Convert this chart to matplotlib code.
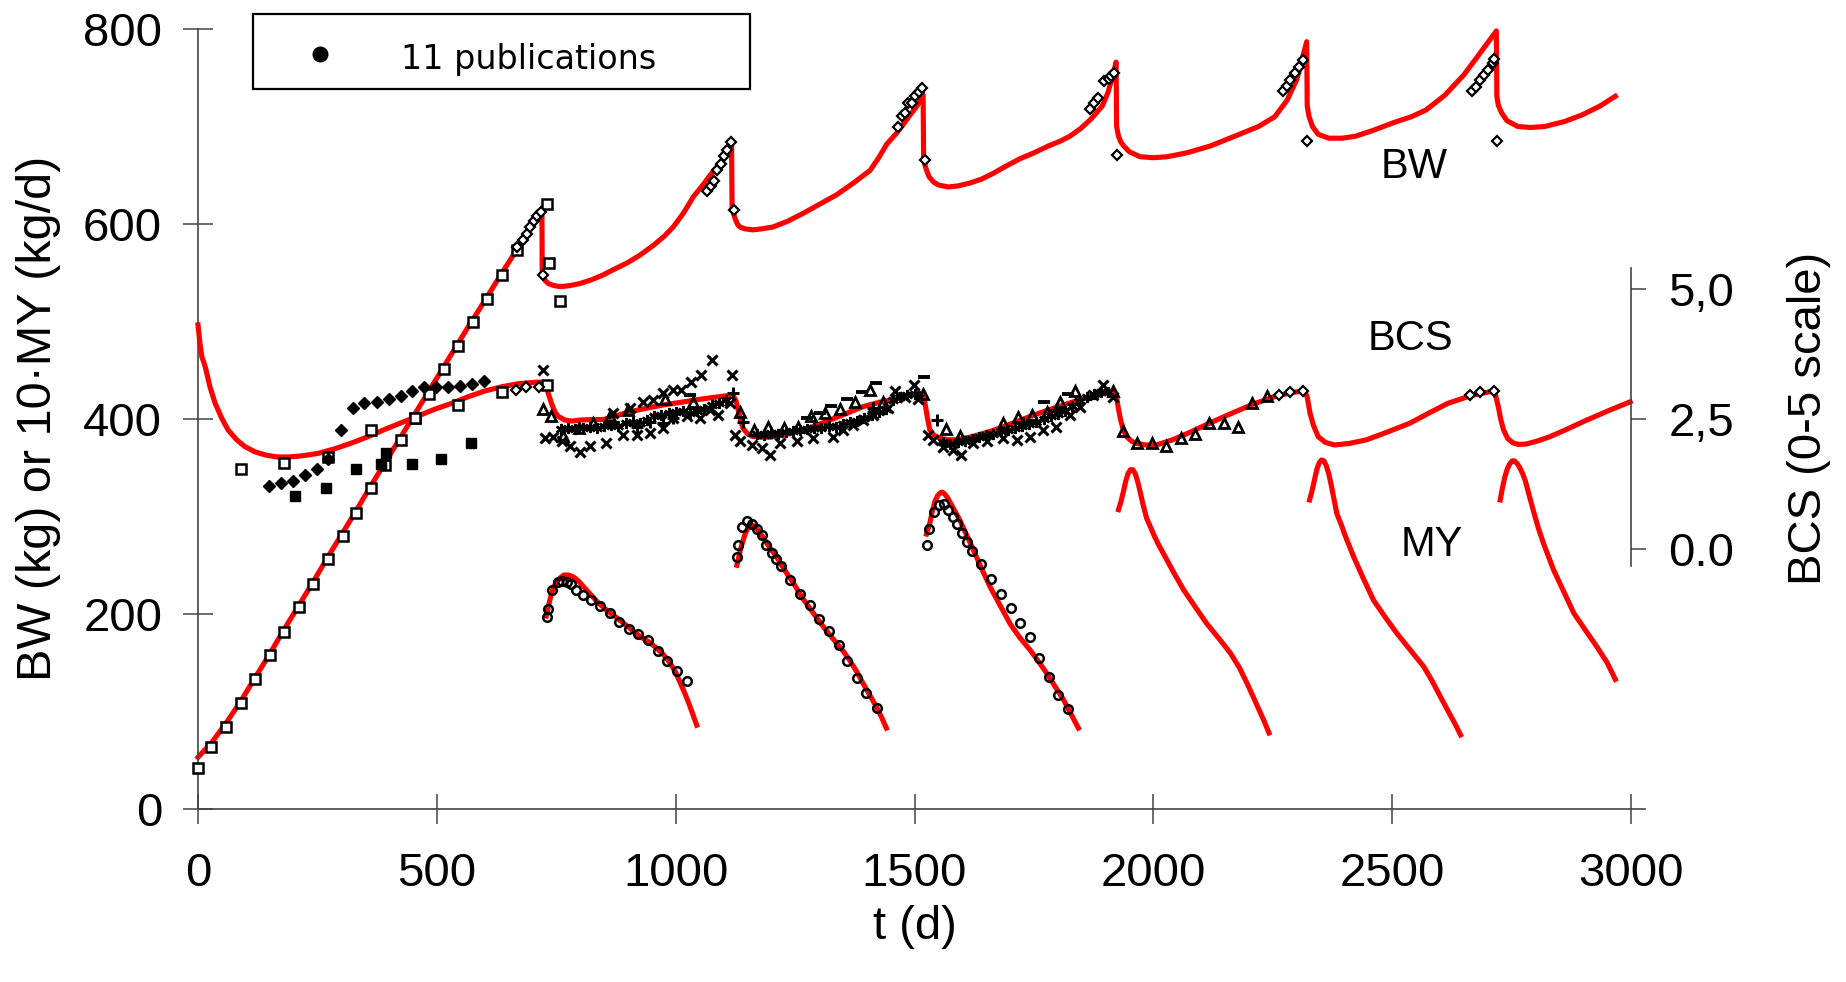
import matplotlib
matplotlib.use("Agg")
import matplotlib.pyplot as plt
from matplotlib.lines import Line2D
from matplotlib.patches import Rectangle

plt.rcParams['font.family'] = ['Liberation Sans', 'DejaVu Sans']

# ---------------- model curves (red) ----------------
# body weight (kg)
bw_t = [0, 30, 60, 90, 120, 150, 180, 210, 240, 270, 300, 330, 360, 390, 420, 450, 480, 510,
        540, 570, 600, 630, 660, 691, 705, 720,
        720.5, 723, 727, 733, 744, 755, 765, 780, 800, 825, 849, 873, 898, 925, 953, 975, 995,
        1016, 1037, 1047, 1060, 1072, 1093, 1110, 1117,
        1118, 1121, 1124, 1129, 1134, 1145, 1162, 1180, 1204, 1235, 1267, 1300, 1337, 1372,
        1407, 1425, 1442, 1462, 1476, 1491, 1505, 1518,
        1519, 1522, 1526, 1531, 1540, 1550, 1570, 1590, 1616, 1640, 1665, 1690, 1721, 1750,
        1780, 1805, 1825, 1848, 1870, 1893, 1905, 1915, 1922,
        1923, 1927, 1932, 1938, 1950, 1972, 2000, 2029, 2070, 2119, 2170, 2220, 2254, 2280,
        2300, 2321,
        2322, 2326, 2333, 2345, 2367, 2395, 2423, 2460, 2503, 2540, 2571, 2610, 2650, 2685,
        2718,
        2719, 2722, 2729, 2740, 2763, 2790, 2819, 2860, 2898, 2935, 2967]
bw_v = [53, 69, 89, 111, 135, 159, 184, 208, 232, 257, 281, 305, 330, 354, 378, 402, 426, 450,
        474, 498, 521, 545, 568, 594, 602, 614,
        553, 547, 542, 539, 537, 536, 536, 537, 539, 543, 548, 554, 560, 568, 578, 587, 597,
        611, 628, 634, 642, 650, 662, 674, 683,
        618, 611, 606, 600, 597, 595, 594, 595, 597, 603, 611, 620, 630, 642,
        655, 668, 682, 693, 702, 712, 721, 732,
        668, 660, 654, 648, 643, 640, 638, 639, 642, 646, 652, 659, 667, 673,
        680, 685, 690, 698, 708, 721, 735, 752, 766,
        700, 690, 684, 680, 674, 669, 668, 669, 673, 680, 690, 700, 710, 727,
        748, 787,
        721, 710, 700, 692, 688, 688, 690, 696, 704, 710, 717, 732, 753, 776,
        798,
        731, 722, 714, 706, 700, 699, 700, 705, 712, 721, 731]

# body condition score (0-5 scale)
bcs_t = [0, 4, 8, 15, 25, 36, 50, 63, 81, 98, 119, 140, 165, 189, 217, 252, 287, 322, 356,
         391, 426, 461, 496, 531, 566, 601, 636, 671, 712, 726, 733, 740, 747, 754, 768, 782,
         800, 825, 849, 875, 904, 940, 974, 1010, 1044, 1075, 1100, 1120,
         1126, 1131, 1136, 1141, 1150, 1159, 1175, 1198, 1225, 1253, 1290, 1323, 1358, 1393,
         1430, 1462, 1490, 1511,
         1517, 1522, 1527, 1532, 1540, 1553, 1570, 1588, 1620, 1658, 1700, 1742, 1776, 1812,
         1846, 1881, 1905, 1919,
         1923, 1926, 1931, 1937, 1945, 1955, 1965, 1985, 2006, 2040, 2073, 2120, 2164, 2210,
         2254, 2290, 2317,
         2322, 2328, 2335, 2345, 2360, 2379, 2410, 2446, 2490, 2537, 2576, 2616, 2665, 2712,
         2717, 2722, 2727, 2733, 2742, 2753, 2765, 2781, 2805, 2830, 2865, 2900, 2950, 2998]
bcs_v = [4.31, 3.96, 3.70, 3.51, 3.12, 2.80, 2.51, 2.29, 2.10, 1.97, 1.87, 1.81, 1.77, 1.77,
         1.79, 1.84, 1.93, 2.04, 2.16, 2.30, 2.43, 2.56, 2.69, 2.80, 2.93, 3.04, 3.12, 3.18,
         3.21, 3.19, 3.00, 2.80, 2.64, 2.55, 2.48, 2.46,
         2.48, 2.49, 2.49, 2.56, 2.64, 2.71, 2.77, 2.82, 2.87, 2.91, 2.94, 2.96,
         2.85, 2.67, 2.48, 2.32, 2.22, 2.17, 2.15, 2.15, 2.19, 2.26, 2.36, 2.48, 2.61, 2.74,
         2.83, 2.89, 2.96, 3.00,
         2.95, 2.80, 2.52, 2.29, 2.19, 2.13, 2.10, 2.10, 2.16, 2.26, 2.40, 2.55, 2.66, 2.77,
         2.87, 2.96, 3.01, 3.03,
         2.92, 2.74, 2.50, 2.29, 2.15, 2.07, 2.03, 2.00, 2.00, 2.10, 2.23, 2.43, 2.61, 2.79,
         2.93, 3.01, 3.04,
         2.92, 2.61, 2.38, 2.16, 2.05, 2.00, 2.03, 2.10, 2.25, 2.42, 2.61, 2.80, 2.95, 3.04,
         2.93, 2.74, 2.50, 2.29, 2.12, 2.04, 2.01, 2.02, 2.08, 2.16, 2.30, 2.45, 2.65, 2.83]

# milk yield x 10 (kg/d), one list per lactation
my_t = [
    [729, 731, 733, 737, 740, 745, 751, 758, 766, 775, 786, 796, 807, 820, 835, 855, 877, 900,
     925, 945, 960, 975, 988, 1000, 1009, 1018, 1027, 1036, 1044],
    [1128, 1132, 1135, 1139, 1142, 1146, 1150, 1155, 1160, 1166, 1172, 1178, 1185, 1197, 1211,
     1228, 1246, 1266, 1288, 1312, 1337, 1352, 1365, 1380, 1392, 1406, 1420, 1431, 1441],
    [1525, 1528, 1532, 1537, 1543, 1548, 1553, 1558, 1563, 1568, 1574, 1584, 1595, 1608, 1623,
     1640, 1658, 1680, 1700, 1720, 1742, 1760, 1777, 1795, 1812, 1828, 1843],
    [1927, 1932, 1937, 1942, 1947, 1952, 1957, 1962, 1967, 1972, 1978, 1986, 1995, 2003, 2012,
     2021, 2042, 2063, 2088, 2112, 2137, 2161, 2180, 2196, 2210, 2220, 2232, 2242],
    [2327, 2332, 2337, 2342, 2347, 2352, 2357, 2362, 2367, 2372, 2378, 2384, 2393, 2401, 2410,
     2419, 2440, 2461, 2485, 2510, 2538, 2566, 2585, 2601, 2612, 2623, 2633, 2643],
    [2726, 2731, 2736, 2741, 2746, 2751, 2756, 2762, 2767, 2773, 2779, 2786, 2796, 2806, 2817,
     2838, 2860, 2880, 2905, 2929, 2950, 2967],
]
my_v = [
    [198, 202, 207, 215, 221, 228, 233, 237, 240, 240, 238, 234, 228, 221, 213, 204, 196, 187,
     177, 171, 165, 158, 150, 140, 130, 120, 109, 97, 86],
    [250, 258, 265, 272, 277, 283, 287, 290, 291, 290, 286, 282, 277, 268, 259,
     245, 232, 216, 201, 185, 170, 161, 152, 140, 129, 117, 105, 94, 83],
    [282, 287, 293, 305, 316, 321, 324, 325, 323, 320, 315, 306, 296, 282, 266,
     247, 228, 208, 190, 176, 163, 151, 139, 125, 112, 97, 83],
    [307, 315, 325, 336, 344, 348, 348, 344, 336, 326, 313, 298, 288, 279, 270,
     262, 243, 225, 207, 190, 175, 160, 145, 129, 114, 103, 90, 78],
    [317, 326, 337, 348, 355, 358, 357, 352, 344, 333, 318, 303, 292, 281, 270,
     259, 236, 214, 197, 180, 163, 146, 130, 115, 105, 95, 86, 76],
    [317, 330, 341, 349, 354, 357, 357, 354, 350, 344, 336, 323, 305, 288, 272,
     245, 222, 201, 183, 166, 150, 133],
]

# ---------------- observations (11 publications) ----------------
# BW, open squares
sq_t = [0, 28, 58, 89, 119, 151, 180, 211, 241, 272, 303, 331, 363, 392, 424, 454, 484, 515,
        545, 576, 606, 636, 668, 730, 735, 758]
sq_v = [42, 64, 84, 109, 133, 158, 182, 207, 231, 256, 280, 304, 329, 353, 378, 401, 426, 451,
        475, 500, 523, 548, 573, 621, 560, 521]
# BW, open diamonds
bwd_t = [668, 681, 688, 696, 703, 710, 717, 723,
         1066, 1073, 1080, 1087, 1094, 1101, 1108, 1115, 1122,
         1465, 1474, 1481, 1486, 1495, 1502, 1509, 1515, 1522,
         1867, 1876, 1885, 1896, 1907, 1912, 1918, 1923,
         2272, 2279, 2286, 2297, 2305, 2313, 2322,
         2667, 2676, 2684, 2693, 2701, 2710, 2714, 2720]
bwd_v = [576, 584, 590, 597, 603, 608, 612, 548,
         634, 639, 644, 655, 662, 670, 676, 684, 614,
         700, 711, 714, 724, 724, 731, 735, 740, 666,
         718, 724, 729, 747, 749, 752, 755, 671,
         736, 742, 748, 755, 761, 768, 685,
         736, 741, 748, 753, 758, 765, 769, 685]

# MY x 10, open circles
myc_t = [730, 733, 742, 753, 762, 772, 780, 792, 805, 822, 841, 862, 882, 902, 922, 942, 962,
         982, 1002, 1023,
         1128, 1131, 1139, 1150, 1160, 1171, 1181, 1190, 1201, 1210, 1220, 1240, 1261, 1281,
         1300, 1321, 1342, 1359, 1379, 1399, 1421,
         1527, 1531, 1541, 1551, 1562, 1571, 1580, 1589, 1600, 1610, 1621, 1640, 1661, 1681,
         1701, 1720, 1742, 1760, 1781, 1801, 1821]
myc_v = [197, 205, 225, 233, 234, 233, 231, 225, 220, 214, 208, 201, 192, 185, 179, 173, 162,
         152, 142, 131,
         258, 271, 289, 295, 292, 287, 281, 271, 263, 256, 249, 235, 221, 209, 195, 183, 168,
         152, 134, 119, 104,
         271, 287, 305, 312, 313, 307, 299, 292, 283, 274, 265, 251, 236, 221, 206, 191, 176,
         155, 135, 117, 103]

# BCS observations (0-5 scale)
bsq_t = [89, 180, 272, 363, 454, 545, 636, 730]
bsq_v = [1.53, 1.65, 1.77, 2.28, 2.52, 2.76, 3.01, 3.16]

fd_t = [149, 173, 198, 224, 249, 273, 299, 324, 348, 374, 399, 424, 449, 474, 499, 524, 548,
        574, 599]
fd_v = [1.21, 1.26, 1.30, 1.43, 1.54, 1.73, 2.29, 2.71, 2.80, 2.82, 2.89, 2.95, 3.04, 3.12,
        3.12, 3.12, 3.13, 3.18, 3.23]

fs_t = [204, 269, 330, 383, 393, 447, 509, 572]
fs_v = [1.02, 1.17, 1.54, 1.63, 1.84, 1.64, 1.73, 2.03]

od_t = [666, 687, 714, 2263, 2286, 2314, 2663, 2684, 2713]
od_v = [3.06, 3.11, 3.12, 2.96, 3.01, 3.04, 2.96, 3.01, 3.04]

tri_t = [722, 738, 764, 798, 827, 862, 901, 977, 1037, 1134, 1164, 1194, 1226, 1257, 1284,
         1312, 1344, 1376, 1407, 1435, 1517, 1566, 1595, 1686, 1717, 1745, 1777, 1805, 1836,
         1916, 1936, 1966, 1997, 2026, 2057, 2087, 2116, 2147, 2178, 2207, 2237]
tri_v = [2.69, 2.56, 2.17, 2.32, 2.42, 2.55, 2.67, 2.89, 2.83, 2.63, 2.29, 2.35, 2.32, 2.35,
         2.55, 2.61, 2.69, 2.83, 3.06, 2.83, 2.99, 2.31, 2.17, 2.42, 2.53, 2.58, 2.64, 2.83,
         3.03, 3.03, 2.27, 2.04, 2.03, 1.99, 2.13, 2.22, 2.43, 2.42, 2.35, 2.80, 2.94]

dash_t = [1030, 1274, 1302, 1326, 1358, 1389, 1420, 1520, 1770, 1822]
dash_v = [2.96, 2.51, 2.62, 2.75, 2.88, 3.01, 3.19, 3.31, 2.83, 2.99]

plus_t = [918, 946, 974, 995, 1120, 1141, 1344, 1413, 1546, 1728, 1797]
plus_v = [2.35, 2.44, 2.42, 2.51, 3.00, 2.44, 2.35, 2.71, 2.49, 2.42, 2.67]

x_t = [726, 744, 761, 779, 800, 820, 855, 890, 918, 946, 974, 995, 1023, 1051, 1072, 1089, 1113,
       723, 869, 904, 932, 953, 974, 995, 1012, 1033, 1054, 1075, 1117,
       1124, 1134, 1159, 1180, 1198, 1218, 1253, 1288, 1330, 1351, 1372, 1393, 1413, 1445, 1459,
       1480, 1498, 1508,
       1529, 1539, 1560, 1581, 1598, 1623, 1651, 1686, 1714, 1742, 1769, 1797, 1825, 1846, 1874,
       1895, 1916]
x_v = [2.13, 2.16, 2.07, 1.98, 1.86, 1.98, 2.04, 2.20, 2.20, 2.23, 2.32, 2.51, 2.55, 2.51, 2.67,
       2.58, 2.80,
       3.44, 2.61, 2.71, 2.83, 2.87, 3.00, 3.06, 3.06, 3.21, 3.34, 3.63, 3.34,
       2.19, 2.07, 2.00, 1.94, 1.81, 2.03, 2.07, 2.13, 2.16, 2.29, 2.39, 2.48, 2.58, 2.71, 3.03,
       2.93, 3.16, 2.89,
       2.19, 2.10, 1.97, 1.90, 1.81, 2.03, 2.07, 2.13, 2.10, 2.16, 2.29, 2.35, 2.58, 2.74, 2.96,
       3.16, 2.93]

ast_t = [760, 775, 790, 805, 820, 835, 850, 865, 880, 895, 910, 925, 940, 955, 970, 985, 1000,
         1015, 1030, 1045, 1060, 1075, 1090, 1105,
         1170, 1185, 1200, 1215, 1230, 1245, 1260, 1275, 1290, 1305, 1320, 1335, 1350, 1365,
         1380, 1395, 1410, 1425, 1440, 1455, 1470, 1485, 1500,
         1560, 1575, 1590, 1605, 1620, 1635, 1650, 1665, 1680, 1695, 1710, 1725, 1740, 1755,
         1770, 1785, 1800, 1815, 1830, 1845, 1860, 1875, 1890, 1905]
ast_v = [2.30, 2.33, 2.31, 2.33, 2.35, 2.33, 2.36, 2.38, 2.36, 2.42, 2.45, 2.43, 2.48, 2.55,
         2.58, 2.62, 2.64, 2.66, 2.62, 2.66, 2.70, 2.76, 2.80, 2.86,
         2.22, 2.20, 2.24, 2.22, 2.25, 2.27, 2.28, 2.30, 2.33, 2.33, 2.36, 2.34, 2.40, 2.44,
         2.47, 2.52, 2.57, 2.63, 2.70, 2.86, 2.93, 2.96, 2.98,
         2.05, 2.02, 2.05, 2.07, 2.12, 2.15, 2.20, 2.22, 2.26, 2.28, 2.33, 2.36, 2.40, 2.45,
         2.50, 2.55, 2.60, 2.66, 2.75, 2.85, 2.92, 2.98, 3.02, 3.02]

x_ticks = [0, 500, 1000, 1500, 2000, 2500, 3000]
y_ticks = [0, 200, 400, 600, 800]
bcs_ticks = [0.0, 2.5, 5.0]
bcs_ticklabels = ['0.0', '2,5', '5,0']
legend_label = '11 publications'

# ---------------- figure ----------------
W, H = 1846, 982
fig = plt.figure(figsize=(W / 100, H / 100), dpi=100)
ax = fig.add_axes([198 / W, (H - 809) / H, (1645.4 - 198) / W, (809 - 29) / H])
ax.set_xlim(0, 3030)
ax.set_ylim(0, 800)

red = '#ff0000'
lw = 3.7
lstyle = dict(color=red, lw=lw, zorder=2, clip_on=False, solid_joinstyle='round')
ax.plot(bw_t, bw_v, **lstyle)
for tt, vv in zip(my_t, my_v):
    ax.plot(tt, vv, **lstyle)

mk = dict(ls='none', clip_on=False, zorder=4)
ax.plot(sq_t, sq_v, marker='s', ms=6.5, mfc='white', mec='black', mew=1.8, **mk)
ax.plot(bwd_t, bwd_v, marker='D', ms=4.8, mfc='white', mec='black', mew=1.6, **mk)
ax.plot(myc_t, myc_v, marker='o', ms=6.2, mfc='none', mec='black', mew=1.8, **mk)

ax2 = ax.twinx()
ax2.set_ylim(-5, 10)
ax2.plot(bcs_t, bcs_v, **lstyle)
ax2.plot(ast_t, ast_v, marker=(6, 2, 0), ms=8, mec='black', mew=1.8, **mk)
ax2.plot(x_t, x_v, marker='x', ms=7, mec='black', mew=2.2, **mk)
ax2.plot(plus_t, plus_v, marker='+', ms=8.5, mec='black', mew=2.2, **mk)
ax2.plot(dash_t, dash_v, marker='_', ms=8.5, mec='black', mew=2.8, **mk)
ax2.plot(tri_t, tri_v, marker='^', ms=6.5, mfc='none', mec='black', mew=2.0, **mk)
ax2.plot(bsq_t, bsq_v, marker='s', ms=6.5, mfc='white', mec='black', mew=1.8, **mk)
ax2.plot(fd_t, fd_v, marker='D', ms=6.5, mfc='black', mec='black', mew=1.0, **mk)
ax2.plot(fs_t, fs_v, marker='s', ms=6.5, mfc='black', mec='black', mew=1.0, **mk)
ax2.plot(od_t, od_v, marker='D', ms=4.8, mfc='white', mec='black', mew=1.6, **mk)

# spines / ticks
spc = '#444444'
for s in ['top', 'right']:
    ax.spines[s].set_visible(False)
ax.spines['left'].set_bounds(0, 800)
for s in ['left', 'bottom']:
    ax.spines[s].set_color(spc)
    ax.spines[s].set_linewidth(1.2)
ax.set_xticks(x_ticks)
ax.set_yticks(y_ticks)
ax.tick_params(axis='both', direction='inout', length=21.6, width=1.1, color=spc,
               labelsize=34)
ax.tick_params(axis='x', pad=20)
ax.tick_params(axis='y', pad=15)

for s in ['top', 'left', 'bottom']:
    ax2.spines[s].set_visible(False)
ax2.spines['right'].set_position(('data', 3000))
ax2.spines['right'].set_bounds(-0.33, 5.4)
ax2.spines['right'].set_color(spc)
ax2.spines['right'].set_linewidth(1.2)
ax2.set_yticks(bcs_ticks)
ax2.set_yticklabels(bcs_ticklabels)
ax2.tick_params(axis='y', direction='out', length=10.8, width=1.1, color=spc,
                labelsize=34, pad=16)

# curve labels
ax.text(2546, 658, 'BW', ha='center', va='center', fontsize=30)
ax.text(2538, 482, 'BCS', ha='center', va='center', fontsize=30)
ax.text(2583, 271, 'MY', ha='center', va='center', fontsize=30)

# axis titles
fig.text(39 / W, 1 - 418 / H, 'BW (kg) or 10\u00b7MY (kg/d)', rotation=90,
         ha='center', va='center', fontsize=35)
fig.text(1809 / W, 1 - 418 / H, 'BCS (0-5 scale)', rotation=90,
         ha='center', va='center', fontsize=34)
fig.text(915 / W, 1 - 927 / H, 't (d)', ha='center', va='center', fontsize=34)

# legend box
fig.add_artist(Rectangle((253 / W, 1 - 89 / H), (750 - 253) / W, 75 / H,
                         transform=fig.transFigure, fill=False, ec='black', lw=1.6))
fig.add_artist(Line2D([320 / W], [1 - 54 / H], transform=fig.transFigure, ls='none',
                      marker='o', ms=10.5, mfc='black', mec='black'))
fig.text(401 / W, 1 - 69 / H, legend_label, ha='left', va='baseline', fontsize=24,
         family=['DejaVu Sans'])

fig.savefig('out.png', dpi=100)
